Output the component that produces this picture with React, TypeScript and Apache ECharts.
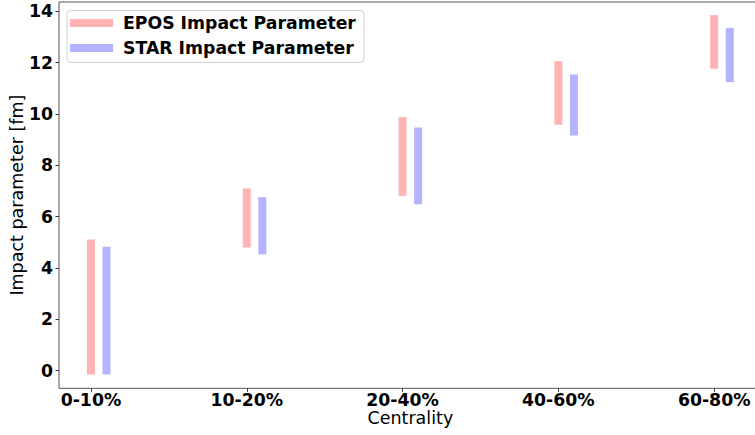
import React, { useEffect, useRef } from "react";
import * as echarts from "echarts";

const categories = ["0-10%", "10-20%", "20-40%", "40-60%", "60-80%"];
const eposLow = [-0.15, 4.8, 6.81, 9.58, 11.76];
const eposHigh = [5.11, 7.1, 9.88, 12.06, 13.85];
const starLow = [-0.15, 4.53, 6.48, 9.16, 11.24];
const starHigh = [4.83, 6.76, 9.47, 11.54, 13.35];
const starOffset = 0.1;
const yTicks = [0, 2, 4, 6, 8, 10, 12, 14];

const FONT = "DejaVu Sans";

export default function App() {
  const ref = useRef<HTMLDivElement>(null);
  useEffect(() => {
    if (!ref.current) return;
    const chart = echarts.init(ref.current, null, { renderer: "svg" });
    const renderRange = (params: any, api: any) => {
      const x = api.value(0);
      const lo = api.coord([x, api.value(1)]);
      const hi = api.coord([x, api.value(2)]);
      const w = 8;
      return {
        type: "rect",
        shape: { x: lo[0] - w / 2, y: hi[1], width: w, height: lo[1] - hi[1] },
        style: { fill: api.visual("color") },
      };
    };
    chart.setOption({
      animation: false,
      backgroundColor: "#fff",
      grid: {
        left: 59,
        top: 2,
        bottom: 46.7,
        right: -6.7,
        show: true,
        borderColor: "#555",
        borderWidth: 1,
        containLabel: false,
        outerBoundsMode: "none",
      },
      legend: {
        orient: "vertical",
        left: 67,
        top: 10.5,
        icon: "rect",
        itemWidth: 43,
        itemHeight: 8,
        itemGap: 8,
        padding: [4, 8, 6, 3],
        backgroundColor: "rgba(255,255,255,0.8)",
        borderColor: "#d0d0d0",
        borderWidth: 1,
        borderRadius: 4,
        textStyle: {
          fontFamily: FONT,
          fontWeight: "bold",
          fontSize: 17.3,
          lineHeight: 17,
          color: "#000",
          padding: [0, 0, 0, 5],
        },
        data: ["EPOS Impact Parameter", "STAR Impact Parameter"],
      },
      xAxis: {
        type: "value",
        min: -0.205,
        max: 4.305,
        name: "Centrality",
        nameLocation: "middle",
        nameGap: 21,
        nameMoveOverlap: false,
        nameTextStyle: { fontFamily: FONT, fontSize: 17.5, color: "#000" },
        axisLine: { show: false, onZero: false },
        splitLine: { show: false },
        axisTick: {
          show: true,
          inside: false,
          length: 3.5,
          lineStyle: { color: "#333" },
          customValues: categories.map((_, i) => i),
        },
        axisLabel: {
          fontFamily: FONT,
          fontWeight: "bold",
          fontSize: 17.3,
          color: "#000",
          margin: 3,
          customValues: categories.map((_, i) => i),
          formatter: (v: number) => categories[Math.round(v)] ?? "",
        },
      },
      yAxis: {
        type: "value",
        min: -0.685,
        max: 14.36,
        name: "Impact parameter [fm]",
        nameLocation: "middle",
        nameGap: 33,
        nameMoveOverlap: false,
        nameTextStyle: { fontFamily: FONT, fontSize: 17.5, color: "#000" },
        axisLine: { show: false, onZero: false },
        splitLine: { show: false },
        axisTick: {
          show: true,
          inside: false,
          length: 3.5,
          lineStyle: { color: "#333" },
          customValues: yTicks,
        },
        axisLabel: {
          fontFamily: FONT,
          fontWeight: "bold",
          fontSize: 17.3,
          color: "#000",
          margin: 6,
          customValues: yTicks,
        },
      },
      series: [
        {
          name: "EPOS Impact Parameter",
          type: "custom",
          renderItem: renderRange,
          itemStyle: { color: "#ffb3b3" },
          data: categories.map((_, i) => [i, eposLow[i], eposHigh[i]]),
          encode: { x: 0, y: [1, 2] },
        },
        {
          name: "STAR Impact Parameter",
          type: "custom",
          renderItem: renderRange,
          itemStyle: { color: "#b3b3ff" },
          data: categories.map((_, i) => [i + starOffset, starLow[i], starHigh[i]]),
          encode: { x: 0, y: [1, 2] },
        },
      ],
    });
    return () => chart.dispose();
  }, []);
  return <div ref={ref} style={{ width: 755, height: 435, position: "absolute", left: 0, top: 0 }} />;
}
